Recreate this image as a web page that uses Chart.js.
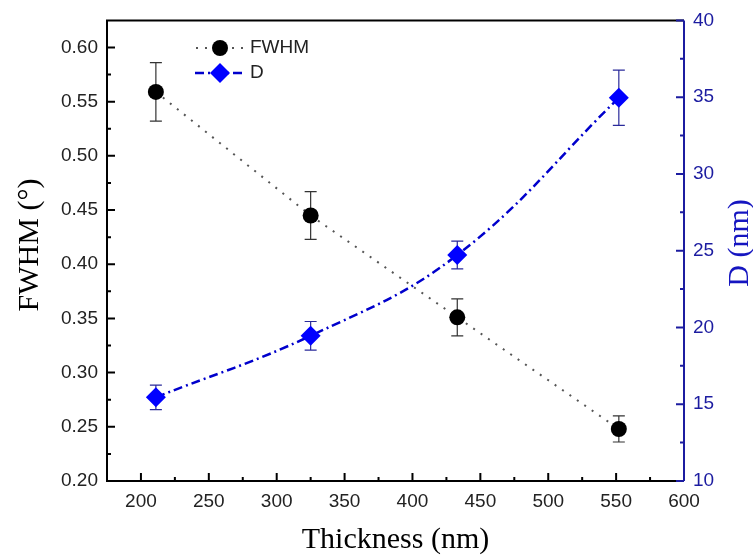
<!DOCTYPE html>
<html lang="en">
<head>
    <meta charset="UTF-8">
    <title>FWHM and D vs Thickness</title>
    <script src="https://cdn.jsdelivr.net/npm/chart.js"></script>
    <style>
        body { margin: 0; background: white; }
        #wrap { width: 753px; height: 559px; }
    </style>
</head>
<body>
    <div id="wrap"><canvas id="chart" width="753" height="559"></canvas></div>

    <script>
        // data
        const thickness = [211, 325, 433, 552];
        const fwhm = [0.559, 0.445, 0.351, 0.248];
        const fwhmErr = [0.027, 0.022, 0.017, 0.012];
        const grain = [15.45, 19.46, 24.72, 34.96];
        const grainErr = [0.80, 0.93, 0.90, 1.80];

        const xTicks = [200, 250, 300, 350, 400, 450, 500, 550, 600];
        const xMinor = [225, 275, 325, 375, 425, 475, 525, 575];
        const leftTicks = [0.20, 0.25, 0.30, 0.35, 0.40, 0.45, 0.50, 0.55, 0.60];
        const leftMinor = [0.225, 0.275, 0.325, 0.375, 0.425, 0.475, 0.525, 0.575];
        const rightTicks = [10, 15, 20, 25, 30, 35, 40];
        const rightMinor = [12.5, 17.5, 22.5, 27.5, 32.5, 37.5];

        const BLUE_AXIS = '#1c1ca0';
        const tickFont = { family: 'Liberation Sans, Arial, sans-serif', size: 19 };

        // error bars under the markers
        const errorBars = {
            id: 'errorBars',
            beforeDatasetsDraw(chart) {
                const ctx = chart.ctx;
                const sets = [
                    { idx: 0, err: fwhmErr, color: '#333', axis: 'y' },
                    { idx: 1, err: grainErr, color: '#2a2a9a', axis: 'y1' }
                ];
                ctx.save();
                ctx.lineWidth = 1.2;
                sets.forEach(s => {
                    const ys = chart.scales[s.axis];
                    const data = chart.data.datasets[s.idx].data;
                    ctx.strokeStyle = s.color;
                    data.forEach((p, i) => {
                        const x = chart.scales.x.getPixelForValue(p.x);
                        const yt = ys.getPixelForValue(p.y + s.err[i]);
                        const yb = ys.getPixelForValue(p.y - s.err[i]);
                        ctx.beginPath();
                        ctx.moveTo(x, yt); ctx.lineTo(x, yb);
                        ctx.moveTo(x - 6, yt); ctx.lineTo(x + 6, yt);
                        ctx.moveTo(x - 6, yb); ctx.lineTo(x + 6, yb);
                        ctx.stroke();
                    });
                });
                ctx.restore();
            }
        };

        // frame, inward ticks, titles and legend
        const frame = {
            id: 'frame',
            afterDraw(chart) {
                const ctx = chart.ctx;
                const a = chart.chartArea;
                const x = chart.scales.x, y = chart.scales.y, y1 = chart.scales.y1;
                ctx.save();
                ctx.lineWidth = 2;
                ctx.strokeStyle = '#000';
                ctx.beginPath();
                ctx.moveTo(a.right, a.top); ctx.lineTo(a.left, a.top);
                ctx.lineTo(a.left, a.bottom); ctx.lineTo(a.right, a.bottom);
                xTicks.forEach(v => {
                    const px = x.getPixelForValue(v);
                    ctx.moveTo(px, a.bottom); ctx.lineTo(px, a.bottom - 8);
                });
                xMinor.forEach(v => {
                    const px = x.getPixelForValue(v);
                    ctx.moveTo(px, a.bottom); ctx.lineTo(px, a.bottom - 4);
                });
                leftTicks.forEach(v => {
                    const py = y.getPixelForValue(v);
                    ctx.moveTo(a.left, py); ctx.lineTo(a.left + 8, py);
                });
                leftMinor.forEach(v => {
                    const py = y.getPixelForValue(v);
                    ctx.moveTo(a.left, py); ctx.lineTo(a.left + 4, py);
                });
                ctx.stroke();

                ctx.strokeStyle = BLUE_AXIS;
                ctx.beginPath();
                ctx.moveTo(a.right, a.top); ctx.lineTo(a.right, a.bottom);
                rightTicks.forEach(v => {
                    const py = y1.getPixelForValue(v);
                    ctx.moveTo(a.right, py); ctx.lineTo(a.right - 8, py);
                });
                rightMinor.forEach(v => {
                    const py = y1.getPixelForValue(v);
                    ctx.moveTo(a.right, py); ctx.lineTo(a.right - 4, py);
                });
                ctx.stroke();

                // axis titles
                ctx.font = '30px "Liberation Serif", "Times New Roman", serif';
                ctx.textAlign = 'center';
                ctx.textBaseline = 'middle';
                ctx.fillStyle = '#000';
                ctx.fillText('Thickness (nm)', (a.left + a.right) / 2, 540);
                ctx.save();
                ctx.translate(30, 245);
                ctx.rotate(-Math.PI / 2);
                ctx.fillText('FWHM (\u00B0)', 0, 0);
                ctx.restore();
                ctx.save();
                ctx.fillStyle = '#1515c0';
                ctx.translate(740, 243);
                ctx.rotate(-Math.PI / 2);
                ctx.fillText('D (nm)', 0, 0);
                ctx.restore();

                // legend
                ctx.font = '19px "Liberation Sans", Arial, sans-serif';
                ctx.textAlign = 'left';
                ctx.lineWidth = 2;
                ctx.strokeStyle = '#555';
                ctx.setLineDash([2, 7]);
                ctx.beginPath(); ctx.moveTo(196, 48); ctx.lineTo(244, 48); ctx.stroke();
                ctx.setLineDash([]);
                ctx.fillStyle = '#000';
                ctx.beginPath(); ctx.arc(220, 48, 8, 0, Math.PI * 2); ctx.fill();
                ctx.fillStyle = '#222';
                ctx.fillText('FWHM', 250, 48);

                ctx.strokeStyle = '#0000cc';
                ctx.lineWidth = 2.5;
                ctx.setLineDash([9, 4, 2, 4]);
                ctx.beginPath(); ctx.moveTo(195, 73); ctx.lineTo(244, 73); ctx.stroke();
                ctx.setLineDash([]);
                ctx.fillStyle = '#0000ff';
                ctx.beginPath();
                ctx.moveTo(220, 63); ctx.lineTo(230, 73); ctx.lineTo(220, 83); ctx.lineTo(210, 73);
                ctx.closePath(); ctx.fill();
                ctx.fillStyle = '#222';
                ctx.fillText('D', 250, 73);
                ctx.restore();
            }
        };

        const fwhmPoints = thickness.map((t, i) => ({ x: t, y: fwhm[i] }));
        const grainPoints = thickness.map((t, i) => ({ x: t, y: grain[i] }));

        new Chart(document.getElementById('chart').getContext('2d'), {
            type: 'scatter',
            data: {
                datasets: [
                    {
                        label: 'FWHM',
                        data: fwhmPoints,
                        yAxisID: 'y',
                        showLine: true,
                        borderColor: '#555',
                        borderWidth: 2,
                        borderDash: [2, 7],
                        pointStyle: 'circle',
                        pointRadius: 8,
                        pointBackgroundColor: '#000',
                        pointBorderColor: '#000',
                        pointBorderWidth: 0,
                        order: 1
                    },
                    {
                        label: 'D',
                        data: grainPoints,
                        yAxisID: 'y1',
                        showLine: true,
                        tension: 0.4,
                        borderColor: '#0000cc',
                        borderWidth: 2.5,
                        borderDash: [9, 4, 2, 4],
                        pointStyle: 'rectRot',
                        pointRadius: 10,
                        pointBackgroundColor: '#0000ff',
                        pointBorderColor: '#0000ff',
                        pointBorderWidth: 0,
                        order: 2
                    }
                ]
            },
            options: {
                responsive: false,
                animation: false,
                layout: { padding: { top: 15, left: 0, right: 0, bottom: 0 } },
                plugins: { legend: { display: false }, tooltip: { enabled: false } },
                scales: {
                    x: {
                        type: 'linear',
                        min: 175, max: 600,
                        afterBuildTicks: s => { s.ticks = xTicks.map(v => ({ value: v })); },
                        afterFit: s => { s.height = 78; },
                        grid: { display: false, drawTicks: false },
                        border: { display: false },
                        ticks: { font: tickFont, color: '#222', padding: 9, maxRotation: 0 }
                    },
                    y: {
                        position: 'left',
                        min: 0.20, max: 0.625,
                        afterBuildTicks: s => { s.ticks = leftTicks.map(v => ({ value: v })); },
                        afterFit: s => { s.width = 107; },
                        grid: { display: false, drawTicks: false },
                        border: { display: false },
                        ticks: { font: tickFont, color: '#222', padding: 9, callback: v => v.toFixed(2) }
                    },
                    y1: {
                        position: 'right',
                        min: 10, max: 40,
                        afterBuildTicks: s => { s.ticks = rightTicks.map(v => ({ value: v })); },
                        afterFit: s => { s.width = 69; },
                        grid: { display: false, drawTicks: false },
                        border: { display: false },
                        ticks: { font: tickFont, color: BLUE_AXIS, padding: 9 }
                    }
                }
            },
            plugins: [errorBars, frame]
        });
    </script>
</body>
</html>
